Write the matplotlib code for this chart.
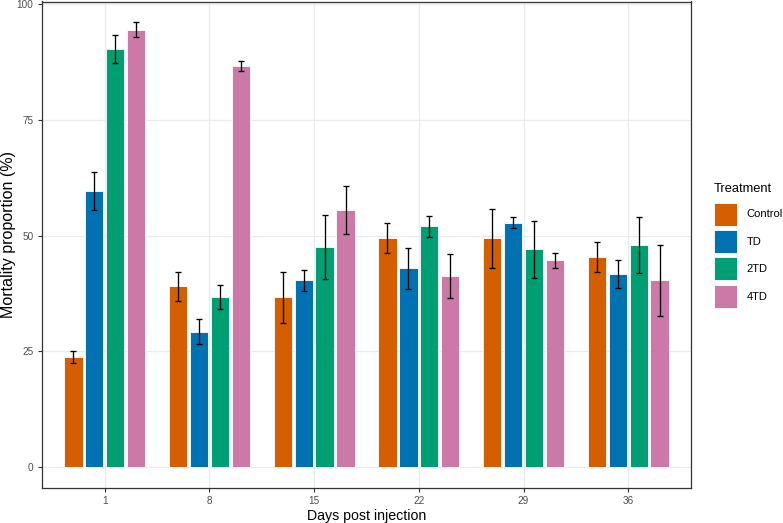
import matplotlib
matplotlib.use("Agg")
import matplotlib.pyplot as plt
import numpy as np
from matplotlib.patches import Patch

plt.rcParams['font.family'] = ['Liberation Sans', 'DejaVu Sans']

days = ["1", "8", "15", "22", "29", "36"]
treatments = ["Control", "TD", "2TD", "4TD"]
colors = ["#D55E00", "#0072B2", "#009E73", "#CC79A7"]

control = [23.7, 39.0, 36.6, 49.5, 49.4, 45.4]
control_err = [1.3, 3.2, 5.5, 3.2, 6.4, 3.2]
td = [59.7, 29.2, 40.3, 42.9, 52.8, 41.7]
td_err = [4.1, 2.7, 2.3, 4.4, 1.2, 3.1]
td2 = [90.3, 36.8, 47.5, 52.0, 47.0, 48.0]
td2_err = [3.0, 2.6, 6.9, 2.3, 6.1, 6.1]
td4 = [94.5, 86.6, 55.5, 41.2, 44.6, 40.3]
td4_err = [1.6, 1.1, 5.2, 4.8, 1.65, 7.6]

values = [control, td, td2, td4]
errors = [control_err, td_err, td2_err, td4_err]

W, H = 783, 523
fig = plt.figure(figsize=(W / 100, H / 100), dpi=100)
ax = fig.add_axes([42 / W, 1 - 488 / H, (691 - 42) / W, (488 - 1.5) / H])

x = np.arange(1, len(days) + 1)
dodge = 0.2
bw = 0.175
for i, (vals, errs, col) in enumerate(zip(values, errors, colors)):
    pos = x + (i - 1.5) * dodge
    ax.bar(pos, vals, width=bw, color=col, edgecolor="white", linewidth=0.6, zorder=2)
    ax.errorbar(pos, vals, yerr=errs, fmt="none", ecolor="black", elinewidth=0.95,
                capsize=2.4, capthick=0.95, zorder=3)

ax.set_xlim(0.4, 6.6)
ax.set_ylim(-4.6, 100.6)
ax.set_xticks(x)
ax.set_xticklabels(days)
ax.set_yticks([0, 25, 50, 75, 100])
ax.grid(True, color="#EBEBEB", linewidth=0.9, zorder=0)
ax.set_axisbelow(True)
for s in ax.spines.values():
    s.set_color("#333333")
    s.set_linewidth(0.9)
ax.tick_params(axis="both", colors="#333333", labelcolor="#4D4D4D", labelsize=7.2,
               length=2.9, width=0.8)
ax.tick_params(axis="y", pad=3.2)
ax.tick_params(axis="x", pad=2.5)
ax.set_xlabel("Days post injection", fontsize=10.2, color="black", labelpad=2.5)
ax.set_ylabel("Mortality proportion (%)", fontsize=11.5, color="black")
ax.yaxis.set_label_coords((16.5 - 42) / 649, (488 - 234) / 486.5)

fig.text(713.3 / W, 1 - 191.7 / H, "Treatment", fontsize=9.3, color="black",
         ha="left", va="baseline")
handles = [Patch(facecolor=c, edgecolor="white", linewidth=0.6, label=t)
           for c, t in zip(colors, treatments)]
leg = fig.legend(handles=handles, loc="upper left",
                 bbox_to_anchor=(714 / W, 1 - 202.7 / H), frameon=False,
                 fontsize=8, handlelength=2.1, handleheight=2.8,
                 labelspacing=0.4, handletextpad=0.85, borderpad=0, borderaxespad=0)

fig.savefig("out.png", dpi=100)
